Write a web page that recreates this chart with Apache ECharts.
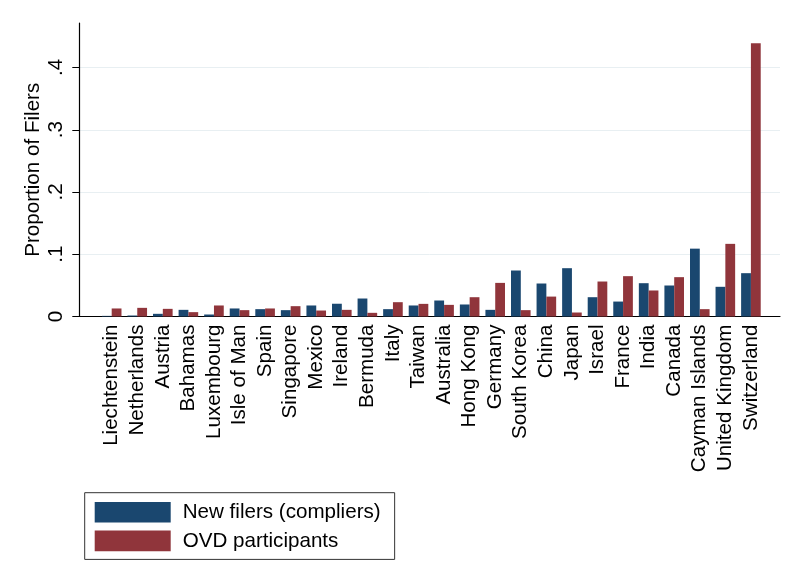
<!DOCTYPE html>
<html>
<head>
<meta charset="utf-8">
<script src="https://cdn.jsdelivr.net/npm/echarts@6/dist/echarts.min.js"></script>
<style>
html,body{margin:0;padding:0;background:#fff;}
#main{width:805px;height:585px;}
</style>
</head>
<body>
<div id="main"></div>
<script>
const categories = ["Liechtenstein","Netherlands","Austria","Bahamas","Luxembourg","Isle of Man","Spain","Singapore","Mexico","Ireland","Bermuda","Italy","Taiwan","Australia","Hong Kong","Germany","South Korea","China","Japan","Israel","France","India","Canada","Cayman Islands","United Kingdom","Switzerland"];
const newFilers = [0.0010,0.0016,0.0043,0.0107,0.0032,0.0129,0.0118,0.0102,0.0177,0.0205,0.0289,0.0118,0.0177,0.0257,0.0193,0.0107,0.0739,0.0530,0.0776,0.0310,0.0240,0.0535,0.0498,0.1090,0.0477,0.0696];
const ovdParticipants = [0.0129,0.0139,0.0123,0.0070,0.0177,0.0102,0.0129,0.0166,0.0096,0.0107,0.0059,0.0230,0.0203,0.0187,0.0310,0.0540,0.0102,0.0320,0.0064,0.0562,0.0648,0.0418,0.0632,0.0118,0.1167,0.4390];
const yTicks = [0, 0.1, 0.2, 0.3, 0.4];
const seriesNames = ["New filers (compliers)", "OVD participants"];

const FONT = '"Liberation Sans", Arial, sans-serif';
const FS = 20.6;
const chart = echarts.init(document.getElementById('main'), null, {renderer: 'canvas'});
const YMAX = 0.4715;
const fmt = v => v === 0 ? '0' : '.' + Math.round(v * 10);

chart.setOption({
  backgroundColor: '#ffffff',
  animation: false,
  textStyle: {fontFamily: FONT},
  grid: [
    {left: 79.3, top: 23, width: 700.7, height: 293.5},
    {left: 98.9, top: 23, width: 664.8, height: 293.5}
  ],
  legend: {
    data: seriesNames,
    orient: 'vertical',
    left: 84.7, top: 492.7,
    icon: 'rect',
    itemWidth: 76, itemHeight: 20.6, itemGap: 7.7,
    padding: [9, 14, 8, 10],
    borderColor: '#333', borderWidth: 1,
    textStyle: {fontSize: FS, fontFamily: FONT, color: '#000', padding: [0, 0, 0, 7]}
  },
  xAxis: [
    {gridIndex: 0, type: 'value', min: 0, max: 1,
     axisLine: {show: true, lineStyle: {color: '#000', width: 1.2}},
     axisTick: {show: false}, axisLabel: {show: false}, splitLine: {show: false}},
    {gridIndex: 1, type: 'category', data: categories,
     axisLine: {show: false}, axisTick: {show: false},
     axisLabel: {rotate: 90, interval: 0, margin: 8, fontSize: FS, color: '#000', fontFamily: FONT}}
  ],
  yAxis: [
    {gridIndex: 0, type: 'value', min: 0, max: YMAX, interval: 0.1,
     axisLine: {show: true, lineStyle: {color: '#000', width: 1.2}},
     axisTick: {show: true, length: 7, customValues: yTicks, lineStyle: {color: '#000'}},
     axisLabel: {rotate: 90, margin: 12, fontSize: FS, color: '#000', fontFamily: FONT,
                 customValues: yTicks, formatter: fmt},
     splitLine: {show: true, showMinLine: false, lineStyle: {color: '#e8eff2', width: 1}}},
    {gridIndex: 1, type: 'value', min: 0, max: YMAX,
     name: 'Proportion of Filers', nameLocation: 'middle', nameGap: 55,
     nameTextStyle: {fontSize: FS, color: '#000', fontFamily: FONT},
     axisLine: {show: false}, axisTick: {show: false}, axisLabel: {show: false}, splitLine: {show: false}}
  ],
  series: [
    {name: seriesNames[0], type: 'bar', xAxisIndex: 1, yAxisIndex: 1, data: newFilers,
     barWidth: 9.8, barGap: '0%', itemStyle: {color: '#1a476f'}},
    {name: seriesNames[1], type: 'bar', xAxisIndex: 1, yAxisIndex: 1, data: ovdParticipants,
     barWidth: 9.8, barGap: '0%', itemStyle: {color: '#90353b'}}
  ]
});
</script>
</body>
</html>
